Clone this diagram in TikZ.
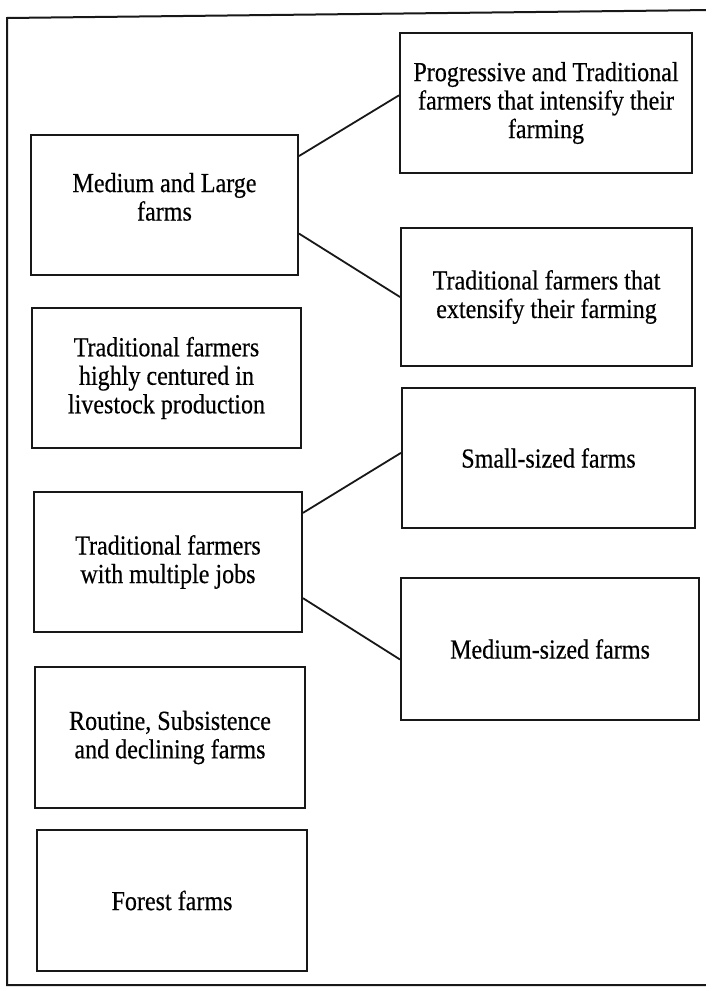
\documentclass[tikz,border=0pt]{standalone}
\usepackage{fontspec}
\setmainfont[FakeStretch=0.875,FakeBold=0.4]{Liberation Serif}
\usetikzlibrary{calc}
\definecolor{ink}{RGB}{24,24,24}
\tikzset{
  box/.style={draw=ink, line width=2pt, rectangle, inner sep=0pt, align=center,
    font=\fontsize{27.5}{28.5}\selectfont, text=black},
  link/.style={draw=ink, line width=1.8pt},
  frame/.style={draw=ink, line width=2pt}
}
\begin{document}
\begin{tikzpicture}[x=1pt, y=-1pt]
\useasboundingbox (0,0) rectangle (705,988);
\fill[white] (0,0) rectangle (705,988);
% outer frame (right edge lies outside the picture)
\draw[frame] (712,985) -- (7,985) -- (7,18) -- (712,10);
% left column
\node[box, minimum width=267pt, minimum height=140pt] (ml) at (164.5,205) {Medium and Large\\farms\\[-12pt]\mbox{}};
\node[box, minimum width=269pt, minimum height=140pt] (high) at (166.5,378) {Traditional farmers\\highly centured in\\livestock production};
\node[box, minimum width=268pt, minimum height=140pt] (multi) at (168,562) {Traditional farmers\\with multiple jobs};
\node[box, minimum width=270pt, minimum height=141pt] (routine) at (170,737.5) {Routine, Subsistence\\and declining farms};
\node[box, minimum width=270pt, minimum height=141pt] (forest) at (172,900.5) {Forest farms};
% right column
\node[box, minimum width=292pt, minimum height=140pt] (prog) at (546,103) {Progressive and Traditional\\farmers that intensify their\\farming};
\node[box, minimum width=291pt, minimum height=138pt] (ext) at (546.5,297) {Traditional farmers that\\extensify their farming};
\node[box, minimum width=293pt, minimum height=140pt] (small) at (548.5,458) {Small-sized farms};
\node[box, minimum width=298pt, minimum height=142pt] (medsz) at (550,649) {Medium-sized farms};
% connectors
\draw[link] (ml.20.5) -- (prog.177.6);
\draw[link] (ml.-12.7) -- (ext.west);
\draw[link] (multi.20.1) -- (small.178);
\draw[link] (multi.-15) -- (medsz.-176.9);
\end{tikzpicture}
\end{document}
